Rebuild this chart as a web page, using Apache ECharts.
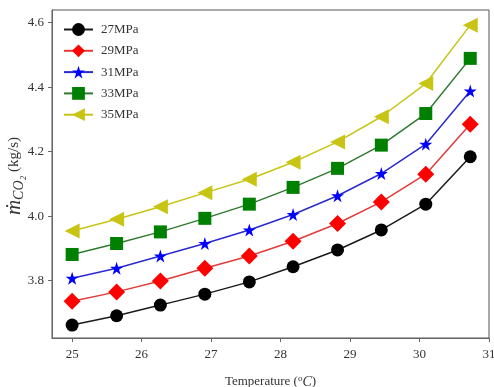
<!DOCTYPE html>
<html>
<head>
<meta charset="utf-8">
<script src="https://cdn.jsdelivr.net/npm/echarts@6/dist/echarts.min.js"></script>
<style>
  html, body { margin: 0; padding: 0; background: #fff; }
  #chart { width: 494px; height: 387px; }
</style>
</head>
<body>
<div id="chart"></div>
<script>
// Inlet temperature (°C)
const temperature = [25.00, 25.64, 26.27, 26.91, 27.55, 28.18, 28.82, 29.45, 30.09, 30.73];

// CO2 mass flow rate (kg/s) at each pressure
const p27 = [3.662, 3.691, 3.724, 3.758, 3.796, 3.843, 3.895, 3.957, 4.037, 4.184];
const p29 = [3.736, 3.765, 3.799, 3.838, 3.876, 3.922, 3.977, 4.044, 4.130, 4.285];
const p31 = [3.807, 3.838, 3.876, 3.915, 3.957, 4.005, 4.063, 4.132, 4.223, 4.388];
const p33 = [3.881, 3.915, 3.951, 3.993, 4.037, 4.089, 4.148, 4.220, 4.318, 4.489];
const p35 = [3.954, 3.990, 4.029, 4.072, 4.114, 4.167, 4.230, 4.308, 4.411, 4.592];

const seriesNames = ['27MPa', '29MPa', '31MPa', '33MPa', '35MPa'];
const xTicks = [25, 26, 27, 28, 29, 30, 31];
const yTicks = [3.8, 4.0, 4.2, 4.4, 4.6];

const STAR = 'path://M10,0 L12.25,6.91 L19.51,6.91 L13.63,11.18 L15.88,18.09 L10,13.82 L4.12,18.09 L6.37,11.18 L0.49,6.91 L7.75,6.91 Z';
const TRI_LEFT = 'path://M0,5 L10,0 L10,10 Z';

const styles = [
  { color: '#000000', line: '#1a1a1a', symbol: 'circle', size: 13 },
  { color: '#ff0000', line: '#e33a3a', symbol: 'diamond', size: 17 },
  { color: '#0000ff', line: '#2a2ad0', symbol: STAR, size: 13 },
  { color: '#008000', line: '#2f7a2f', symbol: 'rect', size: 13 },
  { color: '#c8c414', line: '#c8c414', symbol: TRI_LEFT, size: 15 }
];

const values = [p27, p29, p31, p33, p35];
const FONT = '"Liberation Serif", "DejaVu Serif", serif';

const chart = echarts.init(document.getElementById('chart'));
chart.setOption({
  animation: false,
  backgroundColor: '#fff',
  grid: {
    left: 52, right: 5, top: 10, bottom: 49,
    outerBoundsMode: 'none', containLabel: false,
    show: true, borderColor: '#555', borderWidth: 1
  },
  legend: {
    left: 58, top: 18, orient: 'vertical',
    itemWidth: 29, itemHeight: 16, itemGap: 8.3,
    textStyle: { fontFamily: FONT, fontSize: 13, color: '#333', padding: [0, 0, 0, 3] },
    data: seriesNames
  },
  xAxis: {
    type: 'value', min: 24.71, max: 31,
    axisLine: { lineStyle: { color: '#666', width: 1 } },
    axisTick: { show: true, length: 4, lineStyle: { color: '#666' }, customValues: xTicks },
    axisLabel: { fontFamily: FONT, fontSize: 13, color: '#333', margin: 10, customValues: xTicks },
    splitLine: { show: false },
    name: '{t|Temperature (}{s|o}{i|C}{t|)}',
    nameLocation: 'middle', nameGap: 36,
    nameTextStyle: {
      rich: {
        t: { fontFamily: FONT, fontSize: 13, color: '#333' },
        s: { fontFamily: FONT, fontSize: 9, color: '#333', verticalAlign: 'top', padding: [0, 0, 7, 0] },
        i: { fontFamily: FONT, fontSize: 14, color: '#333', fontStyle: 'italic' }
      }
    }
  },
  yAxis: {
    type: 'value', min: 3.622, max: 4.639,
    axisLine: { show: true, lineStyle: { color: '#666', width: 1 } },
    axisTick: { show: true, length: 4, lineStyle: { color: '#666' }, customValues: yTicks },
    axisLabel: {
      fontFamily: FONT, fontSize: 13, color: '#333', margin: 8, customValues: yTicks,
      formatter: v => v.toFixed(1)
    },
    splitLine: { show: false }
  },
  graphic: [{
    type: 'text',
    x: 14, y: 176, rotation: Math.PI / 2,
    style: {
      text: '{m|ṁ}{c|CO₂}{u| (kg/s)}',
      align: 'center', verticalAlign: 'middle',
      rich: {
        m: { fontFamily: FONT, fontSize: 21, fontStyle: 'italic', fill: '#333' },
        c: { fontFamily: FONT, fontSize: 14, fontStyle: 'italic', fill: '#333', padding: [10, 0, 0, 0] },
        u: { fontFamily: FONT, fontSize: 15, fill: '#333' }
      }
    }
  }],
  series: values.map((vals, k) => ({
    name: seriesNames[k],
    type: 'line',
    data: temperature.map((t, i) => [t, vals[i]]),
    symbol: styles[k].symbol,
    symbolSize: styles[k].size,
    showAllSymbol: true,
    itemStyle: { color: styles[k].color },
    lineStyle: { color: styles[k].line, width: 1.5 },
    z: 2 + k
  }))
});
</script>
</body>
</html>
